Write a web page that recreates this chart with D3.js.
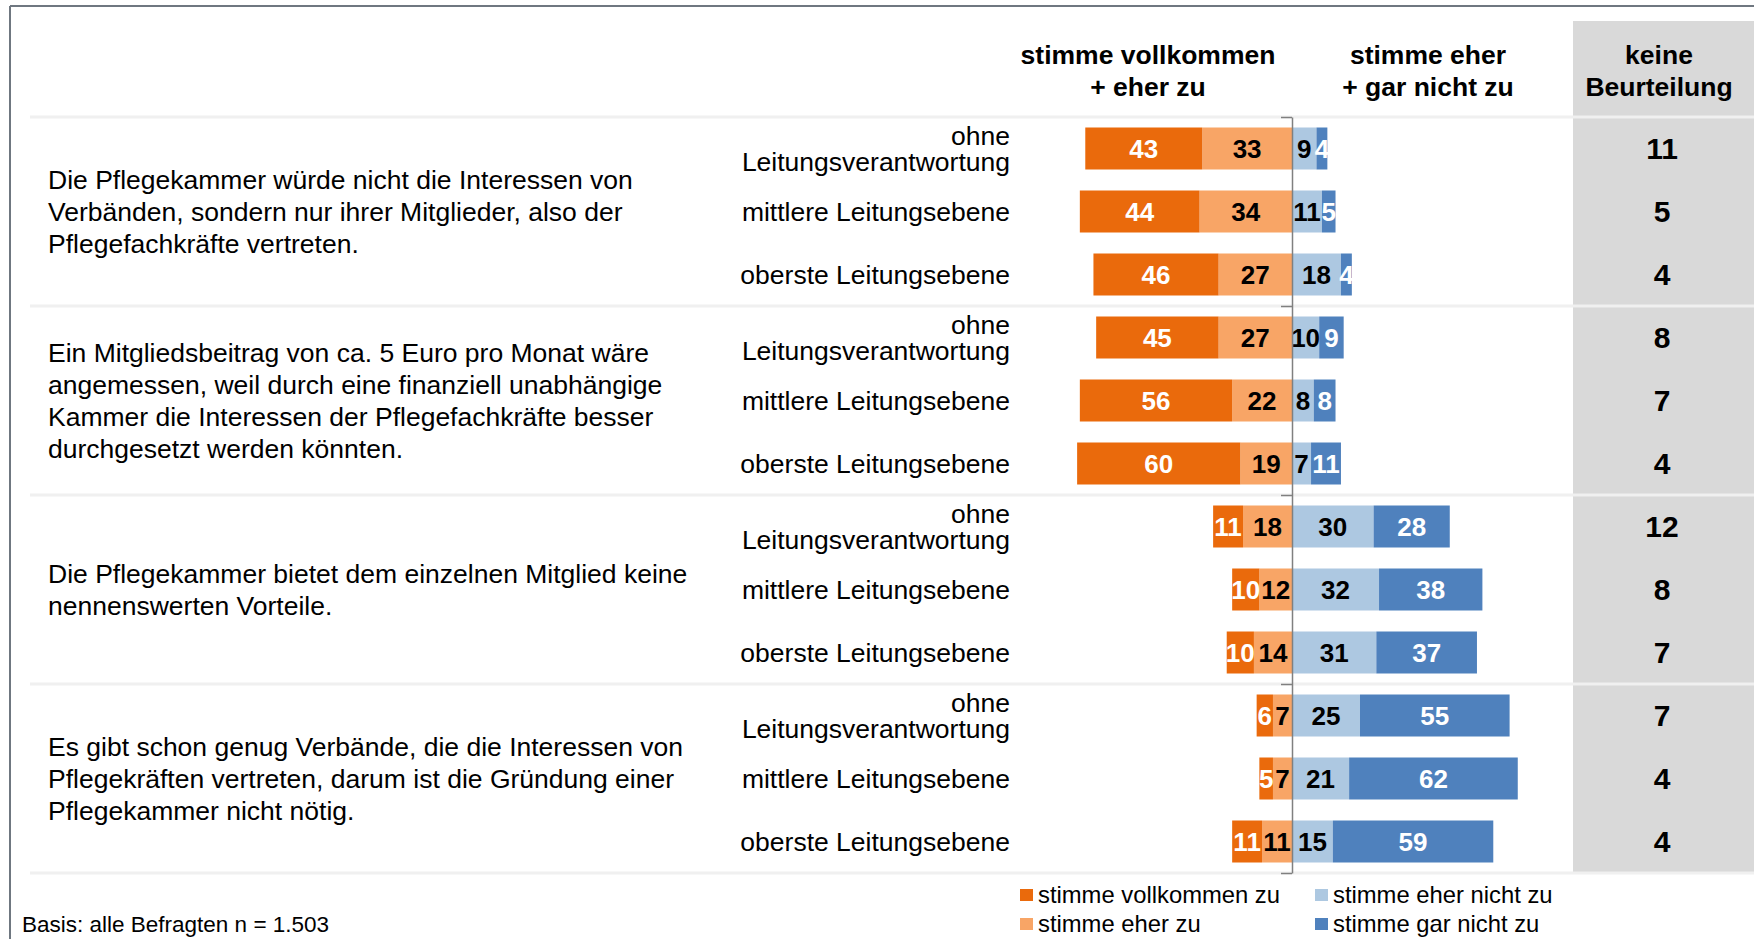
<!DOCTYPE html>
<html><head><meta charset="utf-8">
<script src="https://cdn.jsdelivr.net/npm/d3@7/dist/d3.min.js"></script>
<style>
html,body{margin:0;padding:0;background:#fff;}
svg{display:block;font-family:"Liberation Sans",Arial,sans-serif;}
</style></head>
<body>
<svg id="chart" width="1754" height="939"></svg>
<script>
// ---- data ----
const statements = [
  ["Die Pflegekammer würde nicht die Interessen von", "Verbänden, sondern nur ihrer Mitglieder, also der", "Pflegefachkräfte vertreten."],
  ["Ein Mitgliedsbeitrag von ca. 5 Euro pro Monat wäre", "angemessen, weil durch eine finanziell unabhängige", "Kammer die Interessen der Pflegefachkräfte besser", "durchgesetzt werden könnten."],
  ["Die Pflegekammer bietet dem einzelnen Mitglied keine", "nennenswerten Vorteile."],
  ["Es gibt schon genug Verbände, die die Interessen von", "Pflegekräften vertreten, darum ist die Gründung einer", "Pflegekammer nicht nötig."]
];
const levels = [["ohne", "Leitungsverantwortung"], ["mittlere Leitungsebene"], ["oberste Leitungsebene"]];
const vollkommen = [43, 44, 46, 45, 56, 60, 11, 10, 10, 6, 5, 11];
const eherZu     = [33, 34, 27, 27, 22, 19, 18, 12, 14, 7, 7, 11];
const eherNicht  = [9, 11, 18, 10, 8, 7, 30, 32, 31, 25, 21, 15];
const garNicht   = [4, 5, 4, 9, 8, 11, 28, 38, 37, 55, 62, 59];
const keine      = [11, 5, 4, 8, 7, 4, 12, 8, 7, 7, 4, 4];
const headerLeft = ["stimme vollkommen", "+ eher zu"];
const headerRight = ["stimme eher", "+ gar nicht zu"];
const headerKeine = ["keine", "Beurteilung"];
const legendNames = ["stimme vollkommen zu", "stimme eher zu", "stimme eher nicht zu", "stimme gar nicht zu"];
const colors = ["#EA6A0C", "#F8A566", "#ADC8E1", "#4F81BD"];
const basisText = "Basis: alle Befragten n = 1.503";

// ---- layout ----
const svg = d3.select("#chart");
const W = 1754, H = 939;
const axisX = 1292, plotTop = 117, plotBottom = 873;
const x = d3.scaleLinear().domain([-100, 100]).range([axisX - 272, axisX + 272]);
const rowIdx = d3.range(vollkommen.length);
const yRow = d3.scaleBand().domain(rowIdx).range([plotTop, plotBottom]).paddingInner(1/3).paddingOuter(1/6);
const yGroup = d3.scaleLinear().domain([0, statements.length]).range([plotTop, plotBottom]);

// frame
svg.append("line").attr("x1", 10).attr("x2", W).attr("y1", 6).attr("y2", 6).attr("stroke", "#6f7780").attr("stroke-width", 2);
svg.append("line").attr("x1", 10).attr("x2", 10).attr("y1", 6).attr("y2", H).attr("stroke", "#6f7780").attr("stroke-width", 2);

// grey box for "keine Beurteilung"
svg.append("rect").attr("x", 1573).attr("y", 21).attr("width", W - 1573).attr("height", plotBottom - 21).attr("fill", "#D9D9D9");

// separators
svg.selectAll("line.sep").data(d3.range(statements.length + 1)).join("line")
  .attr("class", "sep").attr("x1", 30).attr("x2", W)
  .attr("y1", d => yGroup(d)).attr("y2", d => yGroup(d))
  .attr("stroke", "#F0F0F0").attr("stroke-width", 3);

// headers
function header(lines, cx) {
  lines.forEach((t, i) => {
    svg.append("text").attr("x", cx).attr("y", 64 + i * 32).attr("text-anchor", "middle")
      .attr("font-size", 26.5).attr("font-weight", "bold").attr("fill", "#000").text(t);
  });
}
header(headerLeft, 1148);
header(headerRight, 1428);
header(headerKeine, 1659);

// statements
statements.forEach((lines, g) => {
  const cy = (yGroup(g) + yGroup(g + 1)) / 2;
  const lh = 32;
  lines.forEach((t, i) => {
    svg.append("text").attr("x", 48).attr("y", cy + (i - (lines.length - 1) / 2) * lh)
      .attr("dy", "0.35em").attr("font-size", 26.5).attr("fill", "#000").text(t);
  });
});

// row labels (multi-line labels as one text element with tspans)
rowIdx.forEach(i => {
  const lv = levels[i % 3];
  const cy = yRow(i) + yRow.bandwidth() / 2;
  const t = svg.append("text").attr("text-anchor", "end").attr("font-size", 26.5).attr("fill", "#000");
  lv.forEach((s, j) => {
    t.append("tspan").attr("x", 1010).attr("y", cy + (j - (lv.length - 1) / 2) * 26)
      .attr("dy", "0.35em").text(s);
  });
});

// stacked segments
const segs = [];
rowIdx.forEach(i => {
  segs.push({ row: i, x0: -eherZu[i], x1: 0, v: eherZu[i], c: 1 });
  segs.push({ row: i, x0: -eherZu[i] - vollkommen[i], x1: -eherZu[i], v: vollkommen[i], c: 0 });
  segs.push({ row: i, x0: 0, x1: eherNicht[i], v: eherNicht[i], c: 2 });
  segs.push({ row: i, x0: eherNicht[i], x1: eherNicht[i] + garNicht[i], v: garNicht[i], c: 3 });
});
svg.selectAll("rect.seg").data(segs).join("rect").attr("class", "seg")
  .attr("x", d => x(d.x0)).attr("width", d => x(d.x1) - x(d.x0))
  .attr("y", d => yRow(d.row)).attr("height", yRow.bandwidth())
  .attr("fill", d => colors[d.c]);
svg.selectAll("text.val").data(segs).join("text").attr("class", "val")
  .attr("x", d => (x(d.x0) + x(d.x1)) / 2)
  .attr("y", d => yRow(d.row) + yRow.bandwidth() / 2).attr("dy", "0.35em")
  .attr("text-anchor", "middle").attr("font-size", 26).attr("font-weight", "bold")
  .attr("fill", d => (d.c === 0 || d.c === 3) ? "#fff" : "#000")
  .text(d => d.v);

// keine Beurteilung values
svg.selectAll("text.keine").data(rowIdx).join("text").attr("class", "keine")
  .attr("x", 1662).attr("y", i => yRow(i) + yRow.bandwidth() / 2).attr("dy", "0.36em")
  .attr("text-anchor", "middle").attr("font-size", 30).attr("font-weight", "bold").attr("fill", "#000")
  .text(i => keine[i]);

// zero axis
const axis = d3.axisLeft(yGroup).tickValues(d3.range(statements.length + 1)).tickFormat("").tickSizeInner(11).tickSizeOuter(0);
const ag = svg.append("g").attr("transform", `translate(${axisX},0)`).call(axis);
ag.selectAll("path,line").attr("stroke", "#808080").attr("stroke-width", 1.5);

// legend
const legPos = [[1020, 889], [1020, 918], [1315, 889], [1315, 918]];
legendNames.forEach((n, i) => {
  const [lx, ly] = legPos[i];
  svg.append("rect").attr("x", lx).attr("y", ly).attr("width", 13).attr("height", 12).attr("fill", colors[i]);
  svg.append("text").attr("x", lx + 18).attr("y", ly + 6).attr("dy", "0.35em")
    .attr("font-size", 23.8).attr("fill", "#000").text(n);
});

// basis
svg.append("text").attr("x", 22).attr("y", 932).attr("font-size", 22.5).attr("fill", "#000").text(basisText);
</script>
</body></html>
